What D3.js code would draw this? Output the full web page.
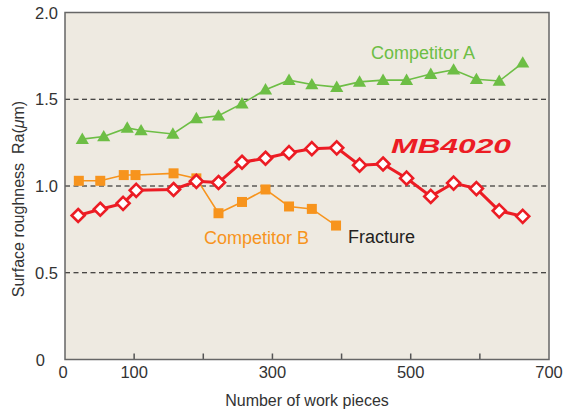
<!DOCTYPE html>
<html><head><meta charset="utf-8">
<script src="https://cdn.jsdelivr.net/npm/d3@7"></script>
<style>body{margin:0;background:#fff}svg{display:block}text{font-family:"Liberation Sans",Arial,sans-serif}</style>
</head><body><svg id="c" width="563" height="416"></svg>
<script>
const xA = [25,56,90,110,156,190,222,256,290,324,357,393,426,460,494,529,562,595,628,662];
const yA = [1.27,1.285,1.335,1.32,1.30,1.39,1.405,1.475,1.555,1.61,1.585,1.57,1.60,1.61,1.61,1.645,1.67,1.615,1.605,1.71];
const xMB = [19,51,84,103,157,190,222,256,290,324,357,393,426,460,494,529,562,595,628,662];
const yMB = [0.83,0.866,0.90,0.975,0.98,1.027,1.02,1.137,1.16,1.192,1.215,1.22,1.12,1.127,1.045,0.94,1.017,0.985,0.857,0.825];
const xB = [20,51,85,102,157,190,222,256,290,324,357,392];
const yB = [1.03,1.03,1.063,1.063,1.073,1.044,0.843,0.908,0.98,0.882,0.868,0.772];
const yTicks = [0,0.5,1.0,1.5,2.0];
const yTickLabels = ["0","0.5","1.0","1.5","2.0"];
const xTicks = [0,100,200,300,400,500,600,700];
const xTickLabels = ["0","100","","300","","500","","700"];
const gridVals = [0.5,1.0,1.5];

const svg = d3.select("#c");
const L=65, R=549, T=12.5, B=359.5;
const x = d3.scaleLinear().domain([0,700]).range([L,R]);
const y = d3.scaleLinear().domain([0,2]).range([B,T]);

svg.append("rect").attr("x",L).attr("y",T).attr("width",R-L).attr("height",B-T).attr("fill","#eeeae1");

svg.selectAll(".grid").data(gridVals).enter().append("line")
  .attr("x1",L).attr("x2",R).attr("y1",d=>y(d)).attr("y2",d=>y(d))
  .attr("stroke","#111").attr("stroke-width",1).attr("stroke-dasharray","5,3.5");

// inner x ticks
svg.selectAll(".xt").data(xTicks.slice(1,-1)).enter().append("line")
  .attr("x1",d=>x(d)).attr("x2",d=>x(d)).attr("y1",B).attr("y2",B-6)
  .attr("stroke","#555").attr("stroke-width",1.5);

svg.append("rect").attr("x",L).attr("y",T).attr("width",R-L).attr("height",B-T)
  .attr("fill","none").attr("stroke","#666").attr("stroke-width",1.5);

// tick labels
svg.selectAll(".xl").data(xTicks).enter().append("text")
  .attr("x",d=>x(d)+(d===0?-2:0)).attr("y",378).attr("text-anchor","middle")
  .attr("font-size",16.5).attr("fill","#333").text((d,i)=>xTickLabels[i]);
svg.selectAll(".yl").data(yTicks).enter().append("text")
  .attr("x",d=>d===0?45:58).attr("y",d=>y(d)+6).attr("text-anchor","end")
  .attr("font-size",16.5).attr("fill","#333").text((d,i)=>yTickLabels[i]);

// axis titles
svg.append("text").attr("x",307).attr("y",406).attr("text-anchor","middle")
  .attr("font-size",16).attr("fill","#333").text("Number of work pieces");
const yt = svg.append("text").attr("transform","translate(24,199) rotate(-90)").attr("text-anchor","middle")
  .attr("font-size",16).attr("fill","#333");
yt.append("tspan").text("Surface roughness\u00a0\u00a0Ra(");
yt.append("tspan").attr("font-style","italic").text("\u03bc");
yt.append("tspan").text("m)");

const line = d3.line().x(d=>x(d[0])).y(d=>y(d[1]));
const green="#6dbe45", orange="#f7941d", red="#ec1c24";
const dA = xA.map((v,i)=>[v,yA[i]]);
const dB = xB.map((v,i)=>[v,yB[i]]);
const dM = xMB.map((v,i)=>[v,yMB[i]]);

// Competitor A
svg.append("path").attr("d",line(dA)).attr("fill","none").attr("stroke",green).attr("stroke-width",1.6);
svg.selectAll(".ta").data(dA).enter().append("path")
  .attr("d",d3.symbol().type(d3.symbolTriangle).size(75))
  .attr("transform",d=>`translate(${x(d[0])},${y(d[1])+1})`).attr("fill",green);

// Competitor B
svg.append("path").attr("d",line(dB)).attr("fill","none").attr("stroke",orange).attr("stroke-width",1.6);
svg.selectAll(".sb").data(dB).enter().append("rect")
  .attr("x",d=>x(d[0])-5).attr("y",d=>y(d[1])-5).attr("width",10).attr("height",10).attr("fill",orange);

// MB4020
svg.append("path").attr("d",line(dM)).attr("fill","none").attr("stroke",red).attr("stroke-width",3);
svg.selectAll(".dm").data(dM).enter().append("path")
  .attr("d","M0,-6.5L6.5,0L0,6.5L-6.5,0Z")
  .attr("transform",d=>`translate(${x(d[0])},${y(d[1])})`)
  .attr("fill","#fff").attr("stroke",red).attr("stroke-width",2.6);

// labels
svg.append("text").attr("x",371).attr("y",59).attr("font-size",18).attr("fill",green).text("Competitor A");
svg.append("text").attr("x",204).attr("y",244).attr("font-size",18).attr("fill",orange).text("Competitor B");
svg.append("text").attr("x",348).attr("y",243).attr("font-size",18).attr("fill","#231f20").text("Fracture");
svg.append("text").attr("x",391).attr("y",153).attr("font-size",21).attr("font-weight","bold").attr("font-style","italic")
  .attr("fill",red).attr("textLength",120).attr("lengthAdjust","spacingAndGlyphs").text("MB4020");
</script></body></html>
